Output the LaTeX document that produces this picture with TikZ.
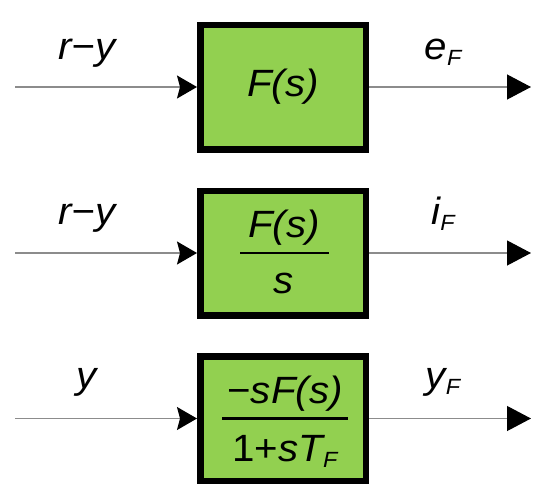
\documentclass[tikz,border=0pt]{standalone}
\usepackage{fontspec}
\setmainfont{Liberation Sans}
\usetikzlibrary{arrows.meta}
\definecolor{boxgreen}{HTML}{92D050}
\definecolor{linegray}{HTML}{8C8C8C}
\newcommand{\subF}{{\fontsize{22}{22}\selectfont\raisebox{-6pt}{\itshape F}}}
\newcommand{\widetxt}[1]{\scalebox{1.06}[1]{#1}}
\tikzset{
  blk/.style={draw=black, fill=boxgreen, line width=6.5pt, minimum width=165.5pt, minimum height=124.5pt, inner sep=0pt, font=\fontsize{38}{38}\selectfont\itshape},
  lbl/.style={anchor=base, inner sep=0pt, font=\fontsize{38}{38}\selectfont\itshape},
  sig/.style={draw=linegray, line width=1.2pt},
  inarrow/.style={sig, -{Stealth[length=20pt, width=23pt, inset=3pt, fill=black, color=black]}},
  outarrow/.style={sig, -{Triangle[length=24pt, width=25pt, fill=black, color=black]}},
  bar/.style={draw=black, line width=2.8pt}
}
\begin{document}
\begin{tikzpicture}[x=1pt, y=-1pt]
\useasboundingbox (0,0) rectangle (550,499);
% block 1
\node[blk] (b1) at (283,87) {\widetxt{F(s)}};
\coordinate (i1) at (15,87);
\coordinate (o1) at (531,87);
\draw[inarrow] (i1) -- (b1.west);
\draw[outarrow] (b1.east) -- (o1);
\node[lbl] (l1) at (87,59) {\widetxt{r\textminus y}};
\node[lbl] (r1) at (443,59) {\widetxt{e\subF}};
% block 2
\node[blk] (b2) at (283,253) {};
\coordinate (i2) at (15,253);
\coordinate (o2) at (531,253);
\draw[inarrow] (i2) -- (b2.west);
\draw[outarrow] (b2.east) -- (o2);
\node[lbl] (n2) at (284,237) {\widetxt{F(s)}};
\node[lbl] (d2) at (284,293) {\widetxt{s}};
\draw[bar] (240,253) -- (329,253);
\node[lbl] (l2) at (87,224) {\widetxt{r\textminus y}};
\node[lbl] (r2) at (443,224) {\widetxt{i\subF}};
% block 3
\node[blk] (b3) at (283,418.5) {};
\coordinate (i3) at (15,418.5);
\coordinate (o3) at (531,418.5);
\draw[inarrow] (i3) -- (b3.west);
\draw[outarrow] (b3.east) -- (o3);
\node[lbl] (n3) at (285,403) {\widetxt{\upshape\textminus\itshape sF(s)}};
\node[lbl] (d3) at (285,461) {\widetxt{\upshape 1+\itshape sT\subF}};
\draw[bar] (222,418.5) -- (348,418.5);
\node[lbl] (l3) at (87,388) {\widetxt{y}};
\node[lbl] (r3) at (443,388) {\widetxt{y\subF}};
\end{tikzpicture}
\end{document}
